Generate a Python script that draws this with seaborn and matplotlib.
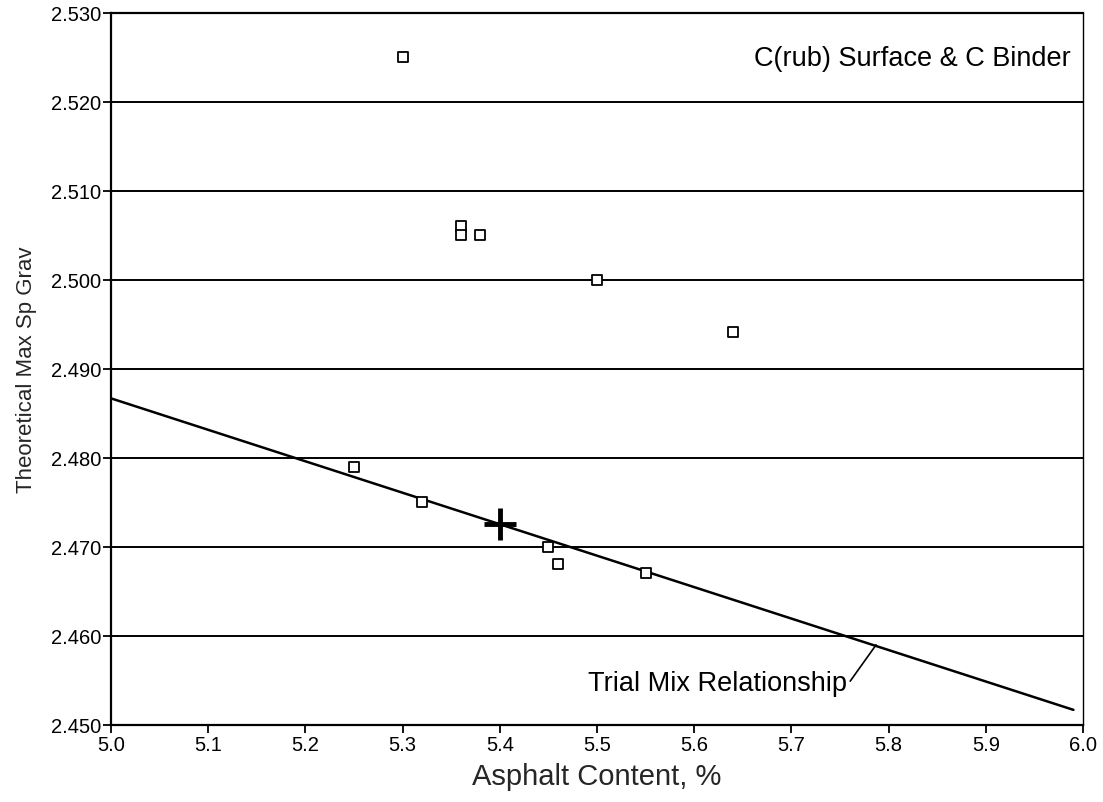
import matplotlib
matplotlib.use("Agg")
import matplotlib.pyplot as plt
import seaborn as sns
import pandas as pd

# Data
asphalt = [5.30, 5.36, 5.36, 5.38, 5.50, 5.64, 5.25, 5.32, 5.45, 5.46, 5.55]
max_sp_grav = [2.5251, 2.5061, 2.5050, 2.5051, 2.5000, 2.4942, 2.4790, 2.4751, 2.4700, 2.4681, 2.4671]
trial_x = [5.0, 5.99]
trial_y = [2.4867, 2.4517]
target_x = [5.40]
target_y = [2.4726]
x_ticks = [5.0, 5.1, 5.2, 5.3, 5.4, 5.5, 5.6, 5.7, 5.8, 5.9, 6.0]
y_ticks = [2.450, 2.460, 2.470, 2.480, 2.490, 2.500, 2.510, 2.520, 2.530]

sns.set_style("white")
plt.rcParams['font.family'] = ['Liberation Sans', 'DejaVu Sans']

fig = plt.figure(figsize=(11.03, 8.03), dpi=100)
ax = fig.add_axes([0.1006, 0.0959, 0.8814, 0.8867])

for yv in y_ticks[1:-1]:
    ax.axhline(yv, color='black', lw=1.4, zorder=1)

df_pts = pd.DataFrame({"x": asphalt, "y": max_sp_grav})
sns.scatterplot(data=df_pts, x="x", y="y", ax=ax, marker='s', s=50,
                facecolor='white', edgecolor='black', linewidth=1.3, zorder=4)

df_line = pd.DataFrame({"x": trial_x, "y": trial_y})
sns.lineplot(data=df_line, x="x", y="y", ax=ax, color='black', lw=1.8, zorder=3)

df_t = pd.DataFrame({"x": target_x, "y": target_y})
sns.scatterplot(data=df_t, x="x", y="y", ax=ax, marker='+', s=520,
                color='black', linewidth=3.5, zorder=5)

ax.set_xlim(5.0, 6.0)
ax.set_ylim(2.450, 2.530)
ax.set_xticks(x_ticks)
ax.set_xticklabels([f"{v:.1f}" for v in x_ticks])
ax.set_yticks(y_ticks)
ax.set_yticklabels([f"{v:.3f}" for v in y_ticks])
ax.tick_params(axis='both', direction='out', length=6, width=1.3, colors='black',
               labelsize=14.5, pad=1, left=True, bottom=True)

for side in ['left', 'bottom', 'top']:
    ax.spines[side].set_color('black')
    ax.spines[side].set_linewidth(1.6)
ax.spines['right'].set_color('black')
ax.spines['right'].set_linewidth(1.0)

ax.set_xlabel("Asphalt Content, %", fontsize=21, labelpad=6)
ax.set_ylabel("Theoretical Max Sp Grav", fontsize=16, labelpad=10)

ax.text(5.987, 2.5249, "C(rub) Surface & C Binder", ha='right', va='center',
        fontsize=19.5, color='black', zorder=6)

ax.annotate("Trial Mix Relationship", xy=(5.787, 2.4590), xytext=(5.757, 2.4547),
            ha='right', va='center', fontsize=19.5, color='black',
            arrowprops=dict(arrowstyle='-', color='black', lw=1.2,
                            shrinkA=0, shrinkB=0, relpos=(1.0, 0.4)))

fig.savefig("out.png", dpi=100)
